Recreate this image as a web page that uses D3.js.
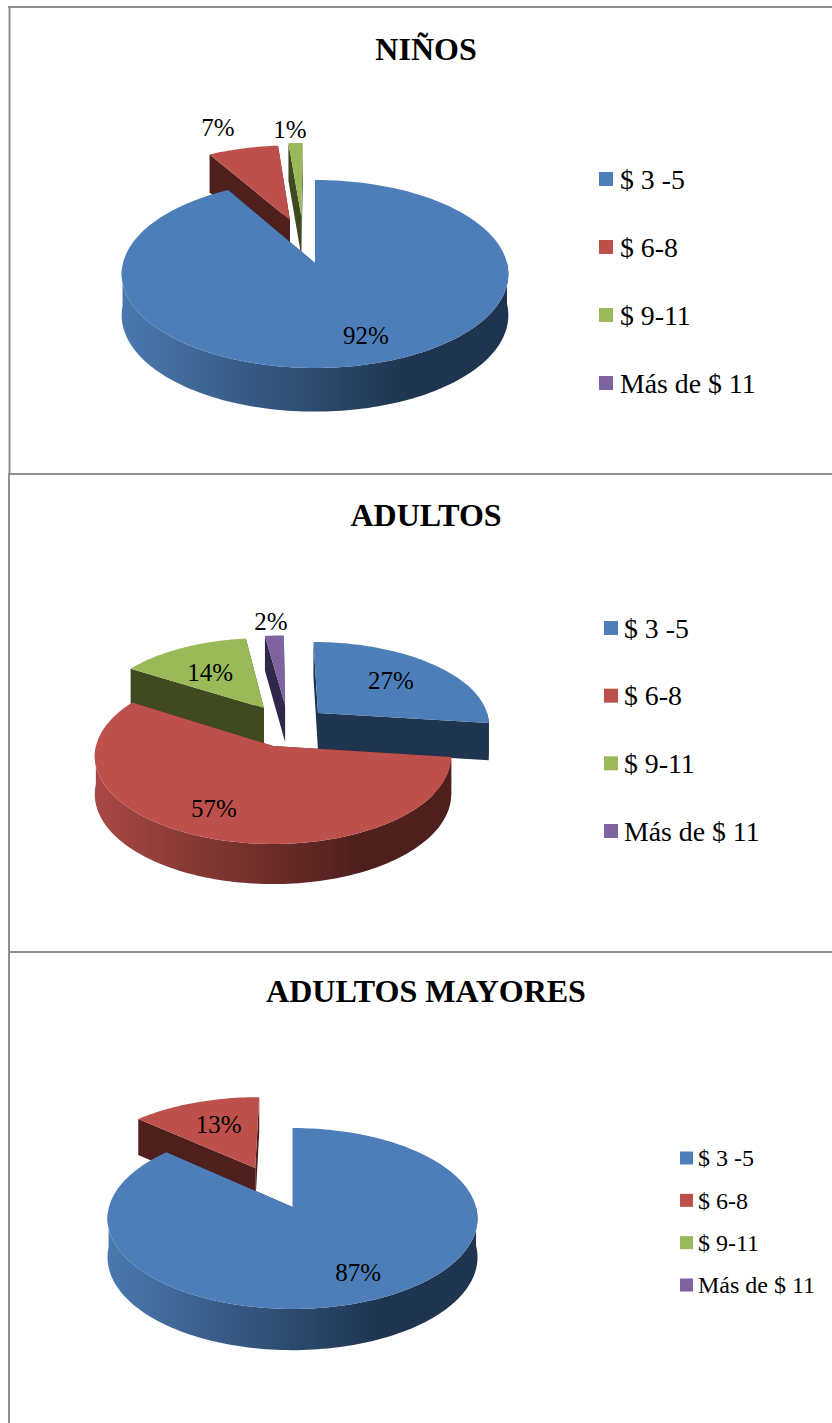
<!DOCTYPE html>
<html>
<head>
<meta charset="utf-8">
<script src="https://cdn.jsdelivr.net/npm/d3@7"></script>
<style>
  html, body { margin: 0; padding: 0; background: #fff; }
  svg { display: block; }
  text { font-family: "Liberation Serif", serif; fill: #000; }
</style>
</head>
<body>
<div id="chart"></div>
<script>
const categories = ['$ 3 -5', '$ 6-8', '$ 9-11', 'Más de $ 11'];
const titles = ['NIÑOS', 'ADULTOS', 'ADULTOS MAYORES'];

// percentages
const ninosValues = [91.7, 6.9, 1.4, 0];
const adultosValues = [27, 57, 14, 2];
const mayoresValues = [86.6, 13.4, 0, 0];

const w = 832;
const h = 1423;

const topColours = ['#4d7eba', '#be504c', '#9aba59', '#7f63a1'];
const sideColours = ['#1e344f', '#4e1f1c', '#3f4a20', '#31274a'];
const sideLeftColours = ['#4a78ae', '#a84844', '#86a04c', '#6f568c'];

// layout of each panel, u/v are in units of the pie radius on the pie plane
const panels = [
  {
    values: ninosValues, cx: 315, cy: 263, rx: 192, ry: 92.7, k: 0.117, depth: 41,
    explode: [[0, 0], [-0.138, -0.49], [-0.075, -0.527], [0, 0]],
    labelAt: [[0.2435, 0.712], [-0.61, -1.771], [-0.157, -1.74], null],
    titleY: 49, titleSize: 32,
    legend: { x: 599, text: 620, top: 179, bottom: 383, size: 14, font: 27.8 }
  },
  {
    values: adultosValues, cx: 273, cy: 746, rx: 177, ry: 86.5, k: 0.117, depth: 37.7,
    explode: [[0.266, -0.399], [0, 0], [-0.054, -0.463], [0.072, -0.502]],
    labelAt: [[0.732, -0.838], [-0.3076, 0.661], [-0.395, -0.951], [-0.014, -1.738]],
    titleY: 515, titleSize: 32,
    legend: { x: 604, text: 624, top: 628, bottom: 831, size: 14, font: 27.8 }
  },
  {
    values: mayoresValues, cx: 292.5, cy: 1207, rx: 183.5, ry: 89, k: 0.127, depth: 38.5,
    explode: [[0, 0], [-0.215, -0.464], [0, 0], [0, 0]],
    labelAt: [[0.328, 0.668], [-0.456, -1.057], null, null],
    titleY: 991, titleSize: 32,
    legend: { x: 680, text: 698, top: 1158, bottom: 1285, size: 13, font: 24 }
  }
];

const svg = d3.select('#chart')
  .append('svg')
  .attr('width', w)
  .attr('height', h)
  .attr('viewBox', `0 0 ${w} ${h}`);

const defs = svg.append('defs');

// panel frame
const frame = svg.append('g')
  .attr('stroke', '#8f8f8f')
  .attr('stroke-width', 2)
  .attr('fill', 'none');
frame.append('line').attr('x1', 8).attr('x2', w).attr('y1', 7).attr('y2', 7);
frame.append('line').attr('x1', 8).attr('x2', w).attr('y1', 474).attr('y2', 474);
frame.append('line').attr('x1', 8).attr('x2', w).attr('y1', 952).attr('y2', 952);
frame.append('line').attr('x1', 9.5).attr('x2', 9.5).attr('y1', 6).attr('y2', 474);
frame.append('line').attr('x1', 9).attr('x2', 9).attr('y1', 474).attr('y2', h);

const pie = d3.pie().sort(null).value(d => d);
const line = d3.line();

panels.forEach((panel, idx) => {
  const g = svg.append('g').attr('class', 'panel');

  // wall gradients run across the whole pie, so a small slice takes its shade from where it sits
  topColours.forEach((c, i) => {
    const grad = defs.append('linearGradient')
      .attr('id', `wall-${idx}-${i}`)
      .attr('gradientUnits', 'userSpaceOnUse')
      .attr('x1', panel.cx - panel.rx)
      .attr('x2', panel.cx + panel.rx)
      .attr('y1', 0)
      .attr('y2', 0);
    grad.append('stop').attr('offset', '0%').attr('stop-color', sideLeftColours[i]);
    grad.append('stop').attr('offset', '75%').attr('stop-color', sideColours[i]);
    grad.append('stop').attr('offset', '100%').attr('stop-color', sideColours[i]);
  });

  // pie plane to screen, v > 0 is towards the viewer
  const project = (u, v, z = 0) => {
    const s = 1 / (1 - panel.k * v);
    return [panel.cx + panel.rx * u * s, panel.cy + panel.ry * v * s + z * panel.depth * Math.sqrt(s)];
  };

  const slices = pie(panel.values)
    .map(d => ({ ...d, i: d.index, off: panel.explode[d.index] }))
    .filter(d => d.value > 0)
    .sort((a, b) => a.off[1] - b.off[1]);

  slices.forEach(d => {
    const [ou, ov] = d.off;
    const steps = d3.range(0, 1.0001, 1 / Math.max(2, Math.ceil((d.endAngle - d.startAngle) * 40)));
    const angle = d3.scaleLinear().domain([0, 1]).range([d.startAngle, d.endAngle]);
    const rim = steps.map(t => [ou + Math.sin(angle(t)), ov - Math.cos(angle(t))]);
    const frontRim = rim.filter(p => p[1] - ov >= 0);
    const at = z => p => project(p[0], p[1], z);
    const apex = [ou, ov];
    const first = rim[0];
    const last = rim[rim.length - 1];

    const slice = g.append('g').attr('class', 'slice');

    // cut faces, anything facing away ends up under the top face
    [first, last].forEach(edge => {
      slice.append('path')
        .attr('d', line([at(0)(apex), at(0)(edge), at(1)(edge), at(1)(apex)]) + 'Z')
        .attr('fill', sideColours[d.i]);
    });

    // outer wall, front half only
    if (frontRim.length > 1) {
      slice.append('path')
        .attr('d', line([...frontRim.map(at(0)), ...frontRim.slice().reverse().map(at(1))]) + 'Z')
        .attr('fill', `url(#wall-${idx}-${d.i})`);
    }

    // top face
    slice.append('path')
      .attr('d', line([at(0)(apex), ...rim.map(at(0))]) + 'Z')
      .attr('fill', topColours[d.i]);
  });

  // percent labels
  const fmt = d3.format('.0%');
  slices.forEach(d => {
    const pos = project(...panel.labelAt[d.i]);
    g.append('text')
      .attr('x', pos[0])
      .attr('y', pos[1])
      .attr('dy', '0.35em')
      .attr('text-anchor', 'middle')
      .attr('font-size', 25)
      .text(fmt(d.value / 100));
  });

  // title
  g.append('text')
    .attr('x', 426)
    .attr('y', panel.titleY)
    .attr('dy', '0.35em')
    .attr('text-anchor', 'middle')
    .attr('font-weight', 'bold')
    .attr('font-size', panel.titleSize)
    .text(titles[idx]);

  // legend
  const rowY = d3.scalePoint().domain(categories).range([panel.legend.top, panel.legend.bottom]);
  const rows = g.selectAll('.legend-row')
    .data(categories)
    .enter()
    .append('g')
    .attr('class', 'legend-row')
    .attr('transform', d => `translate(0, ${rowY(d)})`);
  rows.append('rect')
    .attr('x', panel.legend.x)
    .attr('y', -panel.legend.size / 2)
    .attr('width', panel.legend.size)
    .attr('height', panel.legend.size)
    .attr('fill', (d, i) => topColours[i]);
  rows.append('text')
    .attr('x', panel.legend.text)
    .attr('dy', '0.35em')
    .attr('font-size', panel.legend.font)
    .text(d => d);
});
</script>
</body>
</html>
